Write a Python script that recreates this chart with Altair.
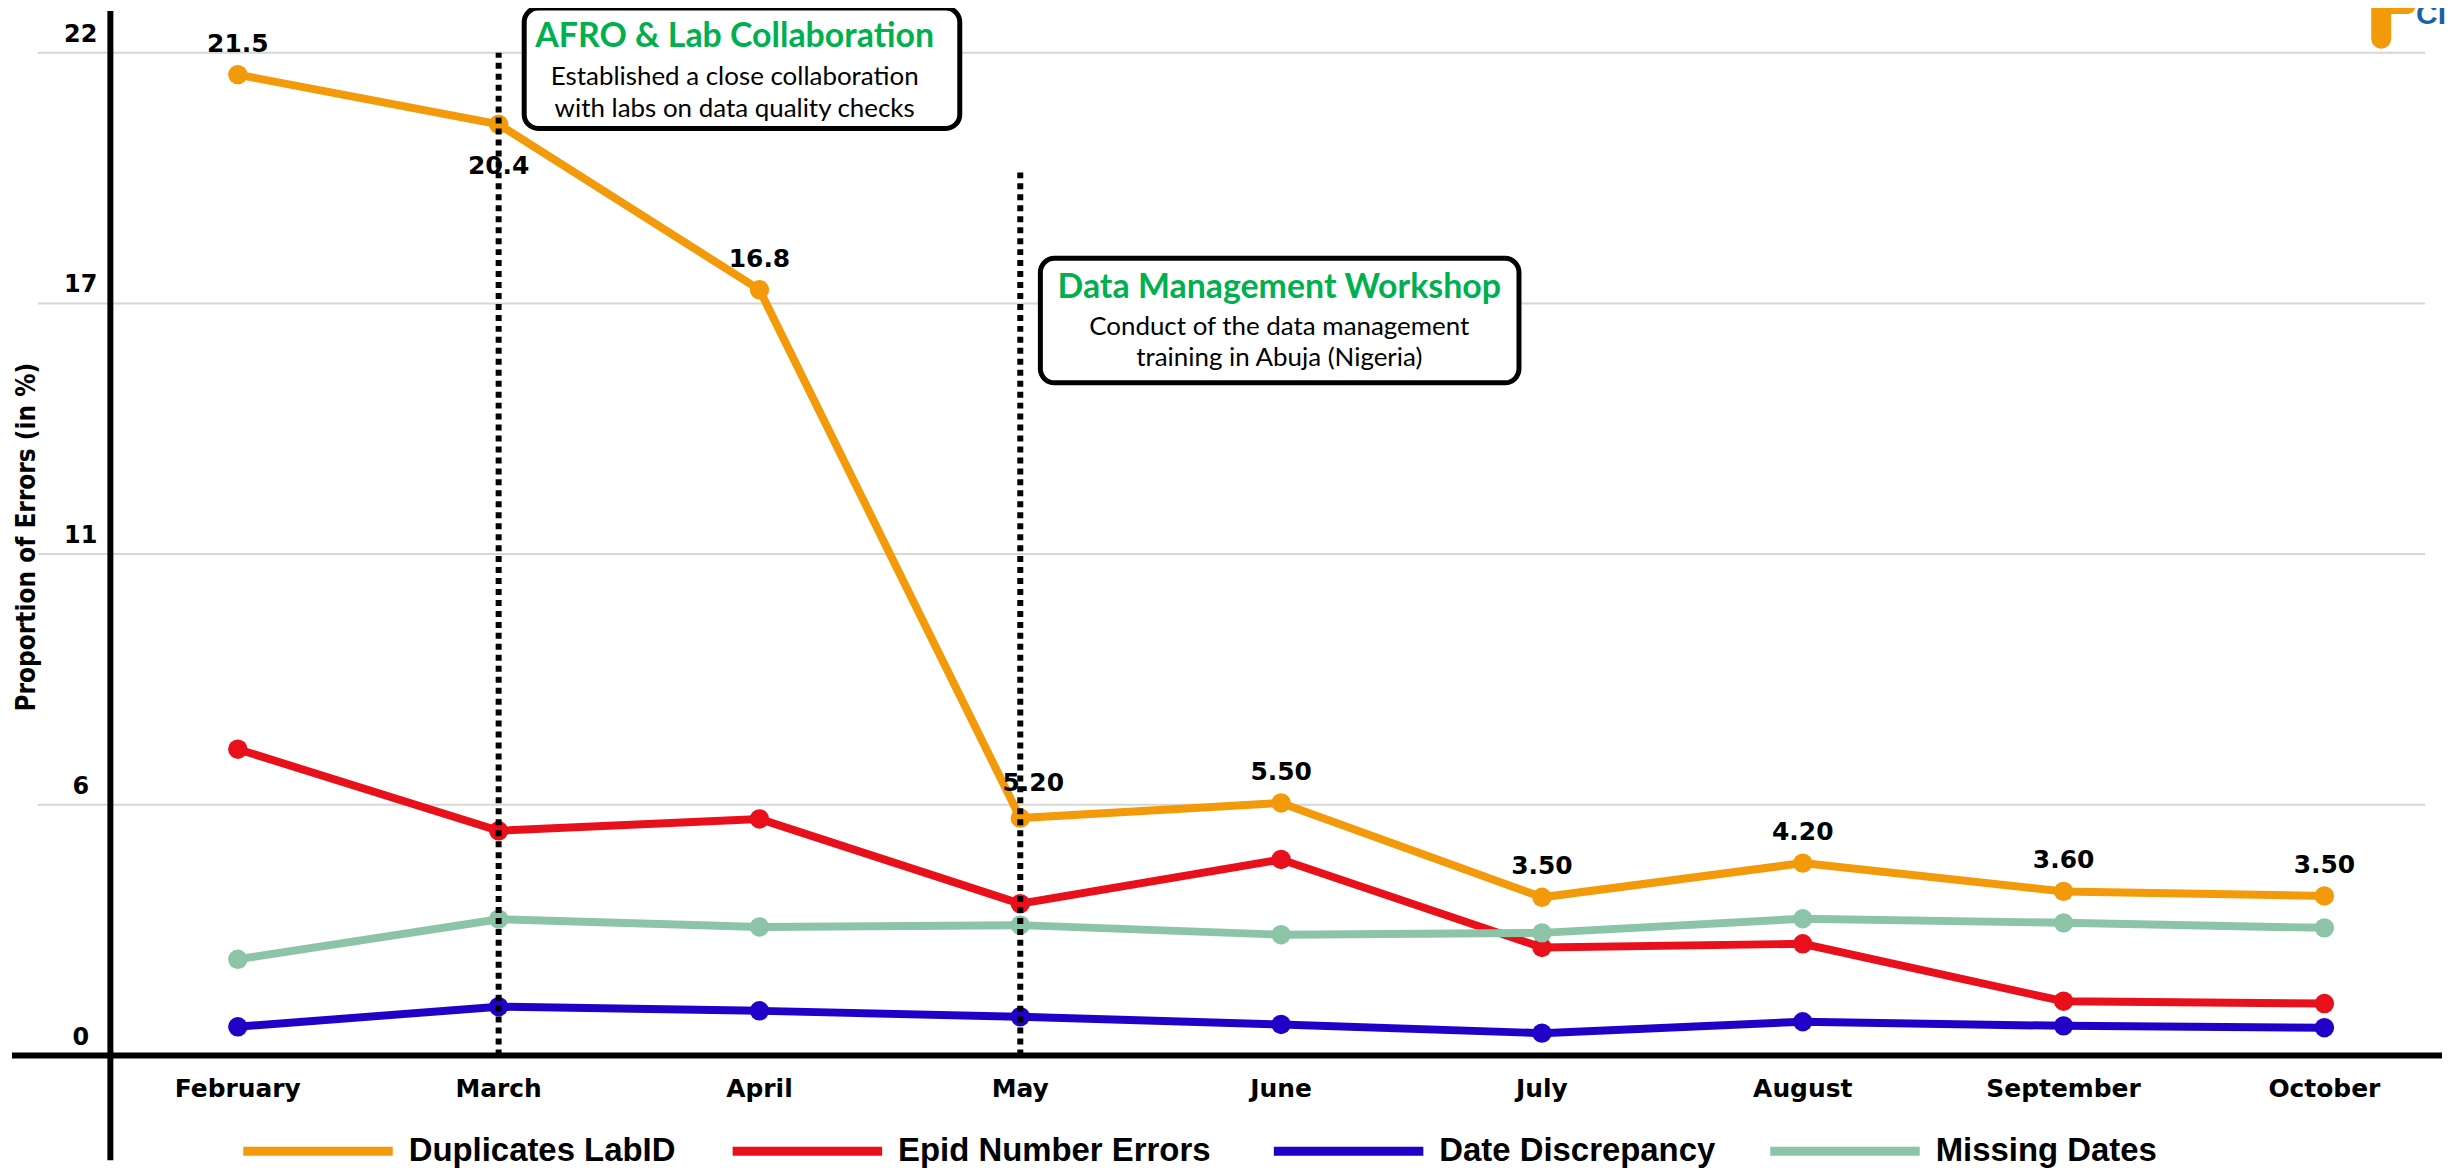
import altair as alt
import pandas as pd

# ---------------- data ----------------
months = ["February", "March", "April", "May", "June", "July", "August", "September", "October"]
series_names = ["Duplicates LabID", "Epid Number Errors", "Date Discrepancy", "Missing Dates"]
duplicates = [21.52, 20.43, 16.8, 5.21, 5.54, 3.47, 4.22, 3.60, 3.50]
epid_errors = [6.72, 4.93, 5.19, 3.33, 4.30, 2.37, 2.45, 1.19, 1.14]
date_discrepancy = [0.63, 1.07, 0.98, 0.85, 0.68, 0.49, 0.74, 0.65, 0.61]
missing_dates = [2.11, 2.99, 2.82, 2.86, 2.65, 2.69, 3.00, 2.91, 2.80]
dup_labels = ["21.5", "20.4", "16.8", "5.20", "5.50", "3.50", "4.20", "3.60", "3.50"]
y_tick_values = [0, 5.5, 11, 16.5, 22]
y_tick_labels = ["0", "6", "11", "17", "22"]
y_title = "Proportion of Errors (in %)"
colors = ["#F39A0B", "#E8101A", "#2100C8", "#8CC4A8"]
event_months = ["March", "May"]
event_tops = [22, 19.45]
ann_titles = ["AFRO & Lab Collaboration", "Data Management Workshop"]
ann_body = [
    ["Established a close collaboration", "with labs on data quality checks"],
    ["Conduct of the data management", "training in Abuja (Nigeria)"],
]
logo_text = "CI"

# annotation placement (month-index / value units)
ann_box_x = [(1.098, 2.768), (3.077, 4.912)]
ann_box_y = [(22.98, 20.34), (17.49, 14.76)]
ann_center_x = [1.905, 3.993]
ann_title_y = [22.35, 16.84]
ann_body_y = [(21.47, 20.77), (15.99, 15.31)]

# legend layout (pixels, relative to plot area)
legend_item_x = [206, 697, 1240, 1738]
legend_symbol_w = 150
legend_gap = 16
legend_y = 1144

# ---------------- frames ----------------
all_vals = [duplicates, epid_errors, date_discrepancy, missing_dates]
rows = []
for s, vals in zip(series_names, all_vals):
    for i, (m, v) in enumerate(zip(months, vals)):
        rows.append({"month": m, "idx": i, "series": s, "value": v})
df = pd.DataFrame(rows)

dup_df = pd.DataFrame({"month": months, "idx": list(range(len(months))),
                       "value": duplicates, "label": dup_labels})
month_df = pd.DataFrame({"month": months, "idx": list(range(len(months))), "zero": 0})
tick_df = pd.DataFrame({"value": y_tick_values, "label": y_tick_labels})
title_row = pd.DataFrame({"text": [y_title]})
logo_row = pd.DataFrame({"text": [logo_text]})
event_df = pd.DataFrame({"month": event_months,
                         "idx": [months.index(m) for m in event_months],
                         "base": 0, "top": event_tops})
box_df = pd.DataFrame({"x1": [b[0] for b in ann_box_x], "x2": [b[1] for b in ann_box_x],
                       "y1": [b[0] for b in ann_box_y], "y2": [b[1] for b in ann_box_y]})
title_df = pd.DataFrame({"x": ann_center_x, "y": ann_title_y, "text": ann_titles})
body_rows = []
for k in range(len(ann_body)):
    for line, yy in zip(ann_body[k], ann_body_y[k]):
        body_rows.append({"x": ann_center_x[k], "y": yy, "text": line})
body_df = pd.DataFrame(body_rows)
legend_df = pd.DataFrame({
    "series": series_names,
    "sx": legend_item_x,
    "sx2": [x + legend_symbol_w for x in legend_item_x],
    "tx": [x + legend_symbol_w + legend_gap for x in legend_item_x],
    "ly": [legend_y] * len(series_names),
})

# ---------------- scales ----------------
W, H = 2395, 1153
xscale = alt.Scale(domain=[-0.7665, 8.386], nice=False, zero=False)
yscale = alt.Scale(domain=[-2.296, 22.918], nice=False, zero=False)
cscale = alt.Scale(domain=series_names, range=colors)

X = lambda f: alt.X(f, scale=xscale, axis=None)
Y = lambda f: alt.Y(f, scale=yscale, axis=None)

grid = alt.Chart(tick_df).mark_rule(color="#D6D6D6", strokeWidth=2).encode(
    y=Y("value:Q"), x=alt.value(0), x2=alt.value(W))

tick_labels = alt.Chart(tick_df).mark_text(
    font="DejaVu Sans", fontWeight="bold", fontSize=24, color="black",
    align="center", baseline="bottom", dy=-6).encode(
    y=Y("value:Q"), x=alt.value(43), text="label:N")

ytitle = alt.Chart(title_row).mark_text(
    font="Liberation Sans Narrow, DejaVu Sans Condensed, Liberation Sans",
    fontWeight="bold", fontSize=26, color="black",
    align="center", baseline="middle", angle=270).encode(
    x=alt.value(-11), y=alt.value(528), text="text:N")

lines = alt.Chart(df).mark_line(strokeWidth=8).encode(
    x=X("idx:Q"),
    y=Y("value:Q"),
    color=alt.Color("series:N", scale=cscale, legend=None),
    detail="series:N",
)

points = alt.Chart(df).mark_circle(size=380, opacity=1).encode(
    x=X("idx:Q"), y=Y("value:Q"),
    color=alt.Color("series:N", scale=cscale, legend=None),
)

xaxis_line = alt.Chart(month_df.head(1)).mark_rule(color="black", strokeWidth=6).encode(
    y=Y("zero:Q"), x=alt.value(-26), x2=alt.value(2412))

yaxis_line = alt.Chart(month_df.head(1)).mark_rule(color="black", strokeWidth=6).encode(
    x=alt.value(72.7), y=alt.value(0), y2=alt.value(H))

events = alt.Chart(event_df).mark_rule(color="black", strokeWidth=6, strokeDash=[6, 5]).encode(
    x=X("idx:Q"), y=Y("base:Q"), y2="top:Q")

lab_font = dict(font="DejaVu Sans", fontWeight="bold", fontSize=25, color="black", baseline="middle")
lab_above = alt.Chart(dup_df).transform_filter(
    "datum.month != 'March' && datum.month != 'May'").mark_text(dy=-31, **lab_font).encode(
    x=X("idx:Q"), y=Y("value:Q"), text="label:N")
lab_below = alt.Chart(dup_df).transform_filter("datum.month == 'March'").mark_text(
    dy=42, **lab_font).encode(x=X("idx:Q"), y=Y("value:Q"), text="label:N")
lab_right = alt.Chart(dup_df).transform_filter("datum.month == 'May'").mark_text(
    dy=-35, dx=13, **lab_font).encode(x=X("idx:Q"), y=Y("value:Q"), text="label:N")

month_labels = alt.Chart(month_df).mark_text(
    font="DejaVu Sans", fontWeight="bold", fontSize=25, color="black",
    baseline="alphabetic", dy=42).encode(x=X("idx:Q"), y=Y("zero:Q"), text="month:N")

boxes = alt.Chart(box_df).mark_rect(cornerRadius=14, fill="white", stroke="black",
                                    strokeWidth=5).encode(
    x=X("x1:Q"), x2="x2:Q", y=Y("y1:Q"), y2="y2:Q")

ann_t = alt.Chart(title_df).mark_text(font="Lato", fontWeight="bold", fontSize=34,
                                      color="#00B050", baseline="middle").encode(
    x=X("x:Q"), y=Y("y:Q"), text="text:N")
ann_b = alt.Chart(body_df).mark_text(font="Lato", fontSize=26, color="black",
                                     baseline="middle").encode(
    x=X("x:Q"), y=Y("y:Q"), text="text:N")

leg_sym = alt.Chart(legend_df).mark_rule(strokeWidth=9).encode(
    x=alt.X("sx:Q", scale=None, axis=None), x2="sx2:Q",
    y=alt.Y("ly:Q", scale=None, axis=None),
    color=alt.Color("series:N", scale=cscale, legend=None))
leg_txt = alt.Chart(legend_df).mark_text(
    font="Liberation Sans", fontWeight="bold", fontSize=33, color="black",
    align="left", baseline="middle").encode(
    x=alt.X("tx:Q", scale=None, axis=None), y=alt.Y("ly:Q", scale=None, axis=None),
    text="series:N")

# cropped logo fragment at the top-right corner (cut by the picture edge, as in the original)
logo_blob = alt.Chart(logo_row).mark_rule(color="#F39A0B", strokeWidth=20, strokeCap="round").encode(
    x=alt.value(2351), y=alt.value(-12), y2=alt.value(28))
logo_top = alt.Chart(logo_row).mark_rule(color="#F39A0B", strokeWidth=14, strokeCap="round").encode(
    x=alt.value(2351), x2=alt.value(2378), y=alt.value(-4))
logo_txt = alt.Chart(logo_row).mark_text(
    font="Liberation Sans Narrow, Liberation Sans", fontWeight="bold", fontSize=30,
    color="#1F5FA8", align="left", baseline="middle").encode(
    x=alt.value(2386), y=alt.value(4), text="text:N")

chart = alt.layer(
    grid, tick_labels, ytitle, lines, points, events, xaxis_line, yaxis_line,
    lab_above, lab_below, lab_right, month_labels, boxes, ann_t, ann_b,
    leg_sym, leg_txt, logo_blob, logo_top, logo_txt,
).resolve_scale(x="independent", y="independent").properties(
    width=W, height=H,
    padding={"left": 30, "top": 1, "right": 20, "bottom": 12},
    autosize=alt.AutoSizeParams(type="none"),
    background="white",
).configure_view(stroke=None)

chart.save("out.html", embed_options={"renderer": "svg", "actions": False})
